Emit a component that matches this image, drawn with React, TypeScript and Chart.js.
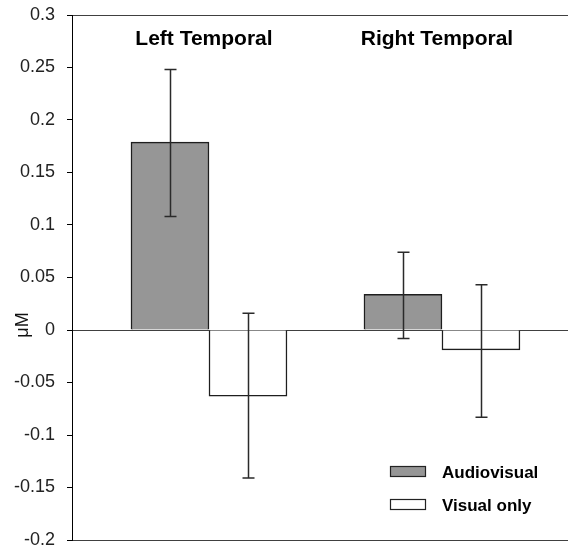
import React, { useEffect, useRef } from "react";
import { Chart, registerables } from "chart.js";

Chart.register(...registerables);

const categories = ["Left Temporal", "Right Temporal"];
const seriesNames = ["Audiovisual", "Visual only"];
const audiovisual = [0.179, 0.034];
const visualOnly = [-0.063, -0.019];
const audiovisualLow = [0.108, -0.008];
const audiovisualHigh = [0.248, 0.074];
const visualOnlyLow = [-0.141, -0.083];
const visualOnlyHigh = [0.016, 0.043];
const yMin = -0.2;
const yMax = 0.3;
const yStep = 0.05;

const FONT = "'Liberation Sans', Arial, sans-serif";

const errorLows = [audiovisualLow, visualOnlyLow];
const errorHighs = [audiovisualHigh, visualOnlyHigh];

const overlayPlugin = {
  id: "overlay",
  afterDatasetsDraw(chart: any) {
    const ctx = chart.ctx as CanvasRenderingContext2D;
    const yScale = chart.scales.y;
    const xScale = chart.scales.x;
    const area = chart.chartArea;
    ctx.save();
    // error bars
    ctx.strokeStyle = "#2a2a2a";
    ctx.lineWidth = 1.5;
    chart.data.datasets.forEach((_ds: any, d: number) => {
      const meta = chart.getDatasetMeta(d);
      meta.data.forEach((bar: any, i: number) => {
        const x = Math.round(bar.x) + 0.5;
        const yl = yScale.getPixelForValue(errorLows[d][i]);
        const yh = yScale.getPixelForValue(errorHighs[d][i]);
        ctx.beginPath();
        ctx.moveTo(x, yl);
        ctx.lineTo(x, yh);
        ctx.moveTo(x - 6, yl);
        ctx.lineTo(x + 6, yl);
        ctx.moveTo(x - 6, yh);
        ctx.lineTo(x + 6, yh);
        ctx.stroke();
      });
    });
    // group titles
    ctx.fillStyle = "#000";
    ctx.font = `bold 21px ${FONT}`;
    ctx.textAlign = "center";
    ctx.textBaseline = "alphabetic";
    categories.forEach((c, i) => {
      ctx.fillText(c, xScale.getPixelForValue(i) - 5, area.top + 30);
    });
    // y axis title
    ctx.save();
    ctx.translate(23.5, area.top + 310);
    ctx.rotate(-Math.PI / 2);
    ctx.font = `18px ${FONT}`;
    ctx.textAlign = "center";
    ctx.textBaseline = "middle";
    ctx.fillStyle = "#111";
    ctx.fillText("\u03bcM", 0, 0);
    ctx.restore();
    // legend
    const lx = area.right - 178;
    const rows = [area.top + 451, area.top + 484];
    chart.data.datasets.forEach((ds: any, d: number) => {
      const top = rows[d];
      ctx.fillStyle = ds.backgroundColor;
      ctx.fillRect(lx, top, 36, 11);
      ctx.strokeStyle = "#222";
      ctx.lineWidth = 1.2;
      ctx.strokeRect(lx + 0.5, top + 0.5, 35, 10);
      ctx.fillStyle = "#000";
      ctx.font = `bold 17px ${FONT}`;
      ctx.textAlign = "left";
      ctx.textBaseline = "alphabetic";
      ctx.fillText(ds.label, lx + 52, top + 12);
    });
    ctx.restore();
  },
};

function isLine(v: number) {
  return Math.abs(v) < 1e-9 || Math.abs(v - yMax) < 1e-9 || Math.abs(v - yMin) < 1e-9;
}

export default function App() {
  const ref = useRef<HTMLCanvasElement | null>(null);
  useEffect(() => {
    if (!ref.current) return;
    const chart = new Chart(ref.current, {
      type: "bar",
      data: {
        datasets: [
          {
            label: seriesNames[0],
            data: categories.map((_c, i) => ({ x: i, y: audiovisual[i] })) as any,
            backgroundColor: "#969696",
            borderColor: "#1e1e1e",
            borderWidth: 1.5,
            barThickness: 78,
          },
          {
            label: seriesNames[1],
            data: categories.map((_c, i) => ({ x: i, y: visualOnly[i] })) as any,
            backgroundColor: "#ffffff",
            borderColor: "#1e1e1e",
            borderWidth: 1.5,
            barThickness: 78,
          },
        ],
      },
      options: {
        animation: false,
        responsive: true,
        maintainAspectRatio: false,
        layout: { padding: { top: 15, bottom: 8, left: 0, right: 0 } },
        plugins: { legend: { display: false }, tooltip: { enabled: false } },
        scales: {
          x: {
            type: "linear",
            display: false,
            offset: false,
            min: -0.588,
            max: 1.541,
          },
          y: {
            min: yMin,
            max: yMax,
            afterFit(scale: any) {
              scale.width = 72;
              scale.paddingTop = 0;
              scale.paddingBottom = 0;
            },
            ticks: {
              stepSize: yStep,
              color: "#222",
              padding: 12,
              font: { family: FONT, size: 18 },
              callback: (v: any) => String(Number(Number(v).toFixed(2))),
            },
            grid: {
              color: (c: any) => (isLine(c.tick.value) ? "#404040" : "rgba(0,0,0,0)"),
              tickColor: "#000",
              tickLength: 5,
              lineWidth: 1,
            },
            border: { display: true, color: "#000", width: 1 },
          },
        },
      },
      plugins: [overlayPlugin],
    });
    return () => chart.destroy();
  }, []);
  return (
    <div style={{ position: "absolute", left: 0, top: 0, width: 568, height: 548, background: "#fff" }}>
      <canvas ref={ref} />
    </div>
  );
}
